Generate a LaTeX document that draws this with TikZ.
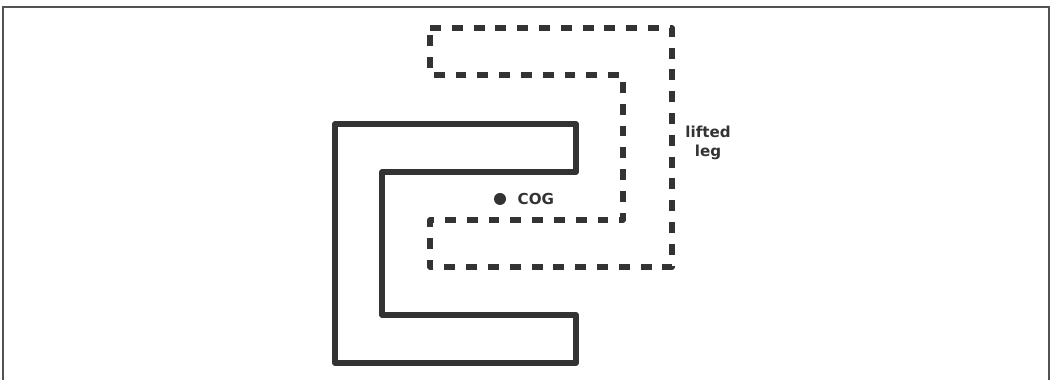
\documentclass[tikz,border=0pt]{standalone}
\usepackage{fontspec}
\setmainfont{DejaVu Sans}
\definecolor{ink}{HTML}{333333}
\tikzset{
	leg/.style={draw=ink, line width=1.6pt, line join=round},
	liftedleg/.style={leg, dash pattern=on 3.1pt off 3.1pt},
	label/.style={text=ink, font=\fontsize{4.3}{5.2}\selectfont\bfseries, inner sep=0pt}
}
\begin{document}
\begin{tikzpicture}[x=0.01cm, y=-0.01cm]
	\useasboundingbox (0,0) rectangle (1051,380);
	\draw[ink!85, line width=0.6pt] (3,380) -- (3,7) -- (1049,7) -- (1049,380);
	\draw[leg] (335,124) -- (576,124) -- (576,172) -- (382,172) -- (382,315) -- (576,315) -- (576,363) -- (335,363) -- cycle;
	\draw[liftedleg] (430,28) -- (672,28) -- (672,267) -- (430,267) -- (430,220) -- (623,220) -- (623,75) -- (430,75) -- cycle;
	\node[circle, fill=ink, inner sep=0pt, minimum size=0.12cm] (cog) at (500,199) {};
	\node[label, anchor=west] (coglabel) at (517,199) {COG};
	\node[label, align=center] (liftedlabel) at (708,143) {lifted\\leg};
\end{tikzpicture}
\end{document}
